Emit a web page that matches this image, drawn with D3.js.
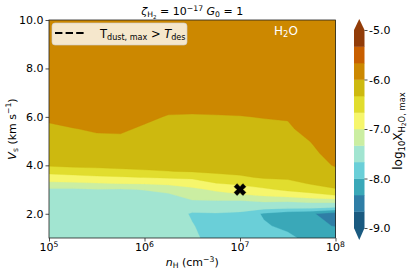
<!DOCTYPE html>
<html><head><meta charset="utf-8">
<script src="https://cdn.jsdelivr.net/npm/d3@7"></script>
<style>
body{margin:0;background:#fff}
svg{display:block}
text{font-family:"DejaVu Sans",sans-serif;white-space:pre}
</style>
</head><body>
<svg id="c" width="407" height="273"></svg>
<script>
// ---- data ----
const logNH = [5, 5.25, 5.5, 5.75, 6, 6.25, 6.5, 6.75, 7, 7.25, 7.5, 7.75, 8];
const vsRows = [1, 1.5, 2, 2.25, 2.5, 2.75, 3, 3.25, 3.5, 3.75, 4, 4.5, 5, 5.5, 6, 6.5, 7, 8, 10];
// log10 X(H2O,max); one array per nH column, values along vsRows
const logXmax = [
  [-7.5,-7.5,-7.5,-7.5,-7.48,-7.45,-7.4,-7.05,-6.87,-6.51,-6.30,-6.2,-6.12,-6.05,-5.95,-5.85,-5.8,-5.78,-5.75],
  [-7.5,-7.5,-7.5,-7.5,-7.48,-7.45,-7.4,-7.05,-6.8,-6.475,-6.27,-6.18,-6.1,-6.01,-5.9,-5.83,-5.8,-5.78,-5.75],
  [-7.5,-7.5,-7.5,-7.5,-7.48,-7.45,-7.35,-7.02,-6.73,-6.45,-6.25,-6.15,-6.06,-5.97,-5.88,-5.83,-5.8,-5.78,-5.75],
  [-7.5,-7.5,-7.5,-7.5,-7.48,-7.45,-7.36,-6.99,-6.7,-6.42,-6.22,-6.15,-6.06,-5.96,-5.88,-5.83,-5.8,-5.78,-5.75],
  [-7.5,-7.5,-7.5,-7.5,-7.48,-7.45,-7.32,-6.97,-6.66,-6.38,-6.2,-6.17,-6.12,-6.04,-5.94,-5.86,-5.8,-5.78,-5.75],
  [-7.5,-7.5,-7.5,-7.5,-7.48,-7.4,-7.22,-6.93,-6.63,-6.34,-6.2,-6.16,-6.12,-6.08,-6.02,-5.9,-5.82,-5.78,-5.75],
  [-7.6,-7.65,-7.7,-7.55,-7.38,-7.2,-7.07,-6.86,-6.6,-6.31,-6.2,-6.16,-6.12,-6.08,-6.03,-5.9,-5.82,-5.78,-5.75],
  [-7.8,-7.8,-7.69,-7.5,-7.38,-7.13,-6.95,-6.68,-6.45,-6.27,-6.2,-6.16,-6.12,-6.08,-6.02,-5.9,-5.82,-5.78,-5.75],
  [-7.85,-7.85,-7.72,-7.55,-7.4,-7.05,-6.85,-6.6,-6.38,-6.25,-6.2,-6.15,-6.1,-6.06,-6.01,-5.9,-5.82,-5.78,-5.75],
  [-7.9,-7.95,-8.05,-7.55,-7.32,-6.98,-6.72,-6.5,-6.3,-6.22,-6.18,-6.14,-6.1,-6.06,-5.99,-5.9,-5.82,-5.78,-5.75],
  [-7.9,-8.1,-8.2,-7.6,-7.33,-6.9,-6.6,-6.45,-6.27,-6.2,-6.15,-6.12,-6.1,-6.04,-5.98,-5.9,-5.82,-5.78,-5.75],
  [-8.15,-8.25,-8.3,-7.6,-7.28,-6.8,-6.5,-6.3,-6.22,-6.15,-6.1,-6.05,-5.99,-5.9,-5.85,-5.82,-5.8,-5.78,-5.75],
  [-8.1,-8.35,-8.5,-7.7,-7.26,-6.68,-6.36,-6.21,-6.15,-6.05,-5.98,-5.9,-5.85,-5.82,-5.8,-5.8,-5.8,-5.78,-5.75]
];
const levelMin = -9, levelMax = -5, levelCount = 12;
const bandColors = ["#1a5a80","#2f7ea6","#3aa8b8","#6acfd8","#a2e5d1","#cbeea2","#f6f66c","#e1dd2e","#cdb90f","#cc8800","#c85f00","#923c08"];
const underColor = "#1a5a80", overColor = "#923c08";
const cbarTicks = [-5, -6, -7, -8, -9];
const yTicks = [2, 4, 6, 8, 10];
const xTickExps = [5, 6, 7, 8];
const marker = {logNH: 7, vs: 3};

// ---- layout ----
const svg = d3.select("#c");
const X0 = 49, X1 = 335.5, Y0 = 20, Y1 = 238;
const xScale = d3.scaleLog().domain([1e5, 1e8]).range([X0, X1]);
const yScale = d3.scaleLinear().domain([1, 10]).range([Y1, Y0]);

function rich(t, parts, fs) {
  let cur = 0;
  parts.forEach(p => {
    const l = p.l || 0;
    let off, size;
    if (l === 0) { off = 0; size = fs; }
    else if (l === 1) { off = 0.22 * fs; size = 0.7 * fs; }
    else if (l === 2) { off = 0.36 * fs; size = 0.5 * fs; }
    else { off = -0.4 * fs; size = 0.7 * fs; }
    t.append("tspan").attr("dy", off - cur).attr("font-size", size)
      .attr("font-style", p.i ? "italic" : "normal").text(p.t);
    cur = off;
  });
}

// ---- contours ----
const nx = logNH.length, ny = vsRows.length;
const values = new Array(nx * ny);
for (let j = 0; j < ny; j++) for (let i = 0; i < nx; i++) values[j * nx + i] = logXmax[i][j];
const levels = d3.range(levelCount + 1).map(k => levelMin + k * (levelMax - levelMin) / levelCount);
const thresholds = [-50, ...levels];
const fillColors = [underColor, ...bandColors, overColor];
const gx = d3.scaleLinear().domain(d3.range(nx)).range(logNH);
const gy = d3.scaleLinear().domain(d3.range(ny)).range(vsRows);
const proj = d3.geoTransform({
  point(x, y) { this.stream.point(xScale(Math.pow(10, gx(x - 0.5))), yScale(gy(y - 0.5))); }
});
const path = d3.geoPath(proj);
const contours = d3.contours().size([nx, ny]).thresholds(thresholds)(values);

svg.append("clipPath").attr("id", "clip").append("rect")
  .attr("x", X0).attr("y", Y0).attr("width", X1 - X0).attr("height", Y1 - Y0);
svg.append("g").attr("clip-path", "url(#clip)")
  .selectAll("path").data(contours).join("path")
  .attr("d", path).attr("fill", (d, i) => fillColors[i])
  .attr("stroke", (d, i) => fillColors[i]).attr("stroke-width", 0.3);

// frame
svg.append("rect").attr("x", X0).attr("y", Y0).attr("width", X1 - X0).attr("height", Y1 - Y0)
  .attr("fill", "none").attr("stroke", "#222").attr("stroke-width", 0.8);

// x axis
const xAxis = svg.append("g").attr("transform", `translate(0,${Y1})`)
  .call(d3.axisBottom(xScale).tickValues(xTickExps.map(e => Math.pow(10, e))).tickFormat("").tickSize(3.5).tickSizeOuter(0));
xAxis.select(".domain").remove();
xAxis.selectAll("line").attr("stroke", "#222").attr("stroke-width", 0.8);
xTickExps.forEach(e => {
  const t = svg.append("text").attr("x", xScale(Math.pow(10, e))).attr("y", 251)
    .attr("text-anchor", "middle").attr("font-size", 11).attr("fill", "#000");
  rich(t, [{t: "10"}, {t: String(e), l: -1}], 11);
});
{
  const t = svg.append("text").attr("x", (X0 + X1) / 2).attr("y", 266)
    .attr("text-anchor", "middle").attr("font-size", 11);
  rich(t, [{t: "n", i: 1}, {t: "H", l: 1}, {t: " (cm"}, {t: "\u22123", l: -1}, {t: ")"}], 11);
}

// y axis
const yAxis = svg.append("g").attr("transform", `translate(${X0},0)`)
  .call(d3.axisLeft(yScale).tickValues(yTicks).tickFormat(d => d.toFixed(1)).tickSize(3.5).tickSizeOuter(0).tickPadding(2));
yAxis.select(".domain").remove();
yAxis.selectAll("line").attr("stroke", "#222").attr("stroke-width", 0.8);
yAxis.selectAll("text").attr("font-size", 11).attr("fill", "#000").attr("font-family", "DejaVu Sans");
{
  const t = svg.append("text").attr("transform", `translate(15.5,${(Y0 + Y1) / 2}) rotate(-90)`)
    .attr("text-anchor", "middle").attr("font-size", 11);
  rich(t, [{t: "V", i: 1}, {t: "s", l: 1}, {t: " (km s"}, {t: "\u22121", l: -1}, {t: ")"}], 11);
}

// title
{
  const t = svg.append("text").attr("x", (X0 + X1) / 2).attr("y", 15)
    .attr("text-anchor", "middle").attr("font-size", 11);
  rich(t, [{t: "\u03b6", i: 1}, {t: "H", l: 1}, {t: "2", l: 2}, {t: " = 10"}, {t: "\u221217", l: -1},
           {t: " "}, {t: "G", i: 1}, {t: "0", l: 1}, {t: " = 1"}], 11);
}

// H2O label
{
  const t = svg.append("text").attr("x", 274).attr("y", 34.5).attr("font-size", 12).attr("fill", "#fff");
  rich(t, [{t: "H"}, {t: "2", l: 1}, {t: "O"}], 12);
}

// marker
svg.append("path")
  .attr("d", d3.symbol(d3.symbolCross, 85)())
  .attr("transform", `translate(${xScale(Math.pow(10, marker.logNH))},${yScale(marker.vs)}) rotate(45)`)
  .attr("fill", "#000").attr("stroke", "#000").attr("stroke-width", 0.6);

// legend
svg.append("rect").attr("x", 52).attr("y", 23).attr("width", 135).attr("height", 22).attr("rx", 3)
  .attr("fill", "rgba(255,255,255,0.8)").attr("stroke", "rgba(204,204,204,0.8)").attr("stroke-width", 0.8);
svg.append("line").attr("x1", 55).attr("x2", 85).attr("y1", 33).attr("y2", 33)
  .attr("stroke", "#000").attr("stroke-width", 2).attr("stroke-dasharray", "7.4,3.2");
{
  const t = svg.append("text").attr("x", 100).attr("y", 37.5).attr("font-size", 11.5);
  rich(t, [{t: "T"}, {t: "dust, max", l: 1}, {t: " > "}, {t: "T", i: 1}, {t: "des", l: 1}], 11.5);
}

// colorbar
const CX0 = 354, CX1 = 364.5;
const cScale = d3.scaleLinear().domain([levelMin, levelMax]).range([228, 30]);
const cb = svg.append("g");
cb.selectAll("rect").data(bandColors).join("rect")
  .attr("x", CX0).attr("width", CX1 - CX0)
  .attr("y", (d, i) => cScale(levels[i + 1]))
  .attr("height", (d, i) => cScale(levels[i]) - cScale(levels[i + 1]) + 0.3)
  .attr("fill", d => d);
const cm = (CX0 + CX1) / 2;
cb.append("path").attr("d", `M${CX0},${cScale(levelMax)}L${cm},${cScale(levelMax) - 11}L${CX1},${cScale(levelMax)}Z`)
  .attr("fill", overColor);
cb.append("path").attr("d", `M${CX0},${cScale(levelMin)}L${cm},${cScale(levelMin) + 12}L${CX1},${cScale(levelMin)}Z`)
  .attr("fill", underColor);
const cAxis = svg.append("g").attr("transform", `translate(${CX1},0)`)
  .call(d3.axisRight(cScale).tickValues(cbarTicks).tickFormat(d => d.toFixed(1).replace("\u2212", "-")).tickSize(3).tickSizeOuter(0).tickPadding(1.5));
cAxis.select(".domain").remove();
cAxis.selectAll("line").attr("stroke", "#222").attr("stroke-width", 0.8);
cAxis.selectAll("text").attr("font-size", 11).attr("fill", "#000").attr("font-family", "DejaVu Sans");
{
  const t = svg.append("text").attr("transform", `translate(402,131) rotate(-90)`)
    .attr("text-anchor", "middle").attr("font-size", 12);
  rich(t, [{t: "log"}, {t: "10", l: 1}, {t: "X"}, {t: "H", l: 1}, {t: "2", l: 2}, {t: "O, max", l: 1}], 12);
}
</script>
</body></html>
